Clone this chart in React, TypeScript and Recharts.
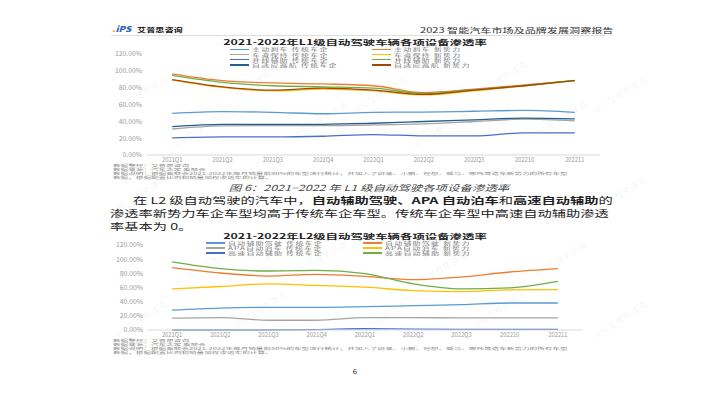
import { LineChart, Line, XAxis, YAxis } from "recharts";

const quarters = [
  "2021Q1",
  "2021Q2",
  "2021Q3",
  "2021Q4",
  "2022Q1",
  "2022Q2",
  "2022Q3",
  "202210",
  "202211",
];
const yTicks = [0, 20, 40, 60, 80, 100, 120];

// L1
const l1BrakeOld = [49.5, 51.5, 50.7, 49, 50.7, 51, 52, 53, 50.7];
const l1BrakeNew = [96.5, 88.4, 85.6, 84.4, 82.3, 74.2, 78.3, 83.2, 88.4];
const l1LaneOld = [30.9, 34.5, 35, 35, 35.7, 37, 39.8, 42.6, 40.6];
const l1LaneNew = [89, 80.3, 76.2, 78.3, 76.2, 71.4, 76.2, 82.3, 88.4];
const l1MergeOld = [20.3, 21.5, 21.5, 22.3, 24.3, 22.7, 22.7, 26.4, 26.4];
const l1MergeNew = [94.5, 86.3, 82.3, 81, 79.5, 73, 77.5, 82.5, 88.6];
const l1AccOld = [33.7, 36.5, 36.5, 36.5, 37.7, 39.8, 41.8, 43.8, 43];
const l1AccNew = [89.6, 81, 77, 79.5, 77, 72, 77, 82.3, 88.4];

// L2
const l2AssistOld = [28.1, 31, 31.9, 31.9, 32.9, 34.3, 35.7, 38.1, 38.1];
const l2AssistNew = [88.1, 80.5, 76.2, 78.6, 75.7, 71, 74.7, 81.9, 86.7];
const l2ApaOld = [16.7, 17.6, 13.8, 13.8, 17.6, 17.6, 17, 17, 17];
const l2ApaNew = [58.1, 61.4, 65.2, 62.9, 60.5, 55.7, 54.3, 56.7, 57.1];
const l2HighwayOld = [0, 0, 0, 0.5, 1.8, 1.2, 1, 1, 1];
const l2HighwayNew = [96.2, 86.7, 83.3, 84.3, 79.5, 65.2, 58, 59.5, 68.6];

const l1Series = [
  { key: "brakeOld", name: "主动刹车 传统车企", color: "#5B9BD5", values: l1BrakeOld },
  { key: "brakeNew", name: "主动刹车 新势力", color: "#ED7D31", values: l1BrakeNew },
  { key: "laneOld", name: "车道保持 传统车企", color: "#A5A5A5", values: l1LaneOld },
  { key: "laneNew", name: "车道保持 新势力", color: "#FFC000", values: l1LaneNew },
  { key: "mergeOld", name: "并线辅助 传统车企", color: "#4472C4", values: l1MergeOld },
  { key: "mergeNew", name: "并线辅助 新势力", color: "#70AD47", values: l1MergeNew },
  { key: "accOld", name: "自适应巡航 传统车企", color: "#255E91", values: l1AccOld },
  { key: "accNew", name: "自适应巡航 新势力", color: "#9E480E", values: l1AccNew },
];

const l2Series = [
  { key: "assistOld", name: "自动辅助驾驶 传统车企", color: "#5B9BD5", values: l2AssistOld },
  { key: "assistNew", name: "自动辅助驾驶 新势力", color: "#ED7D31", values: l2AssistNew },
  { key: "apaOld", name: "APA自动泊车 传统车企", color: "#A5A5A5", values: l2ApaOld },
  { key: "apaNew", name: "APA自动泊车 新势力", color: "#FFC000", values: l2ApaNew },
  { key: "hwOld", name: "高速自动辅助 传统车企", color: "#4472C4", values: l2HighwayOld },
  { key: "hwNew", name: "高速自动辅助 新势力", color: "#70AD47", values: l2HighwayNew },
];

const notes = [
  "数据整理：艾普思咨询",
  "数据来源：汽车之家 乘联会",
  "数据说明：根据乘联会2021-2022年每月销量前80%的车型进行统计，并加入了蔚来、小鹏、理想、威马、哪吒等造车新势力的所有车型",
  "数据，根据配置比例和销量加权渗透率的计算。",
];

const FONT = '"Noto Sans CJK SC", "Noto Sans", sans-serif';

function buildRows(series: { key: string; values: number[] }[]) {
  return quarters.map((q, i) => {
    const row: Record<string, string | number> = { q };
    series.forEach((s) => (row[s.key] = s.values[i]));
    return row;
  });
}

// text block, stretched like the page scan (s wide, sy tall)
function T({
  x,
  y,
  size,
  s = 1.5,
  sy = 1,
  center = false,
  style = {},
  children,
}: {
  x: number;
  y: number;
  size: number;
  s?: number;
  sy?: number;
  center?: boolean;
  style?: React.CSSProperties;
  children: React.ReactNode;
}) {
  return (
    <div
      style={{
        position: "absolute",
        left: x,
        top: y,
        fontSize: size,
        lineHeight: 1,
        whiteSpace: "nowrap",
        fontFamily: FONT,
        transform: center
          ? `translate(-50%, -50%) scale(${s}, ${sy})`
          : `translate(0, -50%) scale(${s}, ${sy})`,
        transformOrigin: center ? "center" : "left center",
        ...style,
      }}
    >
      {children}
    </div>
  );
}

function Legend({
  items,
  cols,
  rowY,
}: {
  items: { name: string; color: string }[];
  cols: number[];
  rowY: number[];
}) {
  return (
    <>
      {items.map((it, i) => {
        const lx = cols[i % 2];
        const y = rowY[Math.floor(i / 2)];
        return (
          <div key={it.name}>
            <div
              style={{
                position: "absolute",
                left: lx,
                top: y - 0.7,
                width: 19,
                height: 1.4,
                background: it.color,
              }}
            />
            <T x={lx + 22} y={y} size={8} s={1.0} sy={0.55} style={{ color: "#777", letterSpacing: 1.2 }}>
              {it.name}
            </T>
          </div>
        );
      })}
    </>
  );
}

function Chart({
  top,
  height,
  marginTop,
  right,
  yWidth,
  pad,
  series,
}: {
  top: number;
  height: number;
  marginTop: number;
  right: number;
  yWidth: number;
  pad: number;
  series: { key: string; color: string; values: number[] }[];
}) {
  return (
    <div style={{ position: "absolute", left: 0, top }}>
      <LineChart
        width={710}
        height={height}
        data={buildRows(series)}
        margin={{ top: marginTop, right, left: 0, bottom: 0 }}
      >
        <XAxis
          dataKey="q"
          interval={0}
          padding={{ left: pad, right: pad }}
          axisLine={{ stroke: "#d9d9d9" }}
          tickLine={false}
          tickSize={2}
          tickMargin={1}
          height={10}
          tick={{ fontSize: 5.8, fill: "#999", fontFamily: FONT }}
        />
        <YAxis
          width={yWidth}
          domain={[0, 120]}
          ticks={yTicks}
          axisLine={false}
          tickLine={false}
          tickSize={3}
          tickMargin={2}
          tickFormatter={(v: number) => `${v.toFixed(2)}%`}
          tick={{ fontSize: 6.8, fill: "#999", fontFamily: FONT }}
        />
        {series.map((s) => (
          <Line
            key={s.key}
            dataKey={s.key}
            type="monotone"
            stroke={s.color}
            strokeWidth={1.3}
            dot={false}
            activeDot={false}
            isAnimationActive={false}
          />
        ))}
      </LineChart>
    </div>
  );
}

const watermarkSpots = [
  [140, 95], [260, 80], [380, 95], [500, 80], [620, 95],
  [200, 130], [320, 120], [440, 130], [560, 120],
  [140, 195], [260, 180], [380, 195], [500, 180], [620, 195],
  [200, 270], [320, 260], [440, 270], [560, 260],
  [140, 320], [260, 310], [380, 320], [500, 310], [620, 320],
];

export default function App() {
  return (
    <div
      style={{
        position: "absolute",
        left: 0,
        top: 0,
        width: 710,
        height: 399,
        background: "#fff",
        overflow: "hidden",
        fontFamily: FONT,
      }}
    >
      {/* watermark */}
      {watermarkSpots.map(([x, y], i) => (
        <div
          key={i}
          style={{
            position: "absolute",
            left: x,
            top: y,
            fontSize: 9,
            fontWeight: 700,
            color: "rgba(0,0,0,0.04)",
            transform: "translate(-50%,-50%) rotate(-32deg)",
            whiteSpace: "nowrap",
          }}
        >
          iPS 艾普思咨询
        </div>
      ))}

      {/* header */}
      <T x={112} y={29} size={8} s={1.2} style={{ color: "#2a64b8", fontWeight: 900, fontStyle: "italic" }}>
        <span style={{ color: "#f39a1e" }}>.</span>iPS
      </T>
      <T x={137} y={29.5} size={6.1} s={1.5} style={{ color: "#111", fontWeight: 700 }}>
        艾普思咨询
      </T>
      <T x={420} y={30} size={7.4} s={1.5} style={{ color: "#333" }}>
        2023 智能汽车市场及品牌发展洞察报告
      </T>
      <div style={{ position: "absolute", left: 111, top: 35, width: 494, height: 0.6, background: "#ddd" }} />

      {/* chart 1 */}
      <T x={355} y={41.5} size={8} s={1.55} sy={0.9} center style={{ color: "#222", fontWeight: 700 }}>
        2021-2022年L1级自动驾驶车辆各项设备渗透率
      </T>
      <Chart top={0} height={165} marginTop={54} right={110} yWidth={147} pad={25.2} series={l1Series} />
      <Legend items={l1Series} cols={[230, 372]} rowY={[49.3, 54.5, 59.7, 64.9]} />
      {notes.map((n, i) => (
        <T key={"a" + i} x={113} y={165.5 + i * 4} size={8} s={0.95} sy={0.42} style={{ color: "#888" }}>
          {n}
        </T>
      ))}

      {/* caption */}
      <T x={369} y={187} size={8.3} s={1.5} center style={{ color: "#444", fontStyle: "italic" }}>
        图 6：2021−2022 年 L1 级自动驾驶各项设备渗透率
      </T>

      {/* paragraph */}
      <T x={133} y={201} size={9.5} s={1.5} style={{ color: "#222" }}>
        在 L2 级自动驾驶的汽车中，<b>自动辅助驾驶、APA 自动泊车</b>和<b>高速自动辅助</b>的
      </T>
      <T x={110} y={214} size={9.5} s={1.5} style={{ color: "#222" }}>
        渗透率新势力车企车型均高于传统车企车型。传统车企车型中高速自动辅助渗透
      </T>
      <T x={110} y={227} size={9.5} s={1.5} style={{ color: "#222" }}>
        率基本为 0。
      </T>

      {/* chart 2 */}
      <T x={355} y={235.5} size={8} s={1.55} sy={0.9} center style={{ color: "#222", fontWeight: 700 }}>
        2021-2022年L2级自动驾驶车辆各项设备渗透率
      </T>
      <Chart top={200} height={140} marginTop={45} right={128} yWidth={148} pad={24.1} series={l2Series} />
      <Legend items={l2Series} cols={[206, 363]} rowY={[243, 248, 253]} />
      {notes.map((n, i) => (
        <T key={"b" + i} x={113} y={341 + i * 4} size={8} s={0.95} sy={0.42} style={{ color: "#888" }}>
          {n}
        </T>
      ))}

      <T x={355} y={372} size={6} s={1.3} center style={{ color: "#333" }}>
        6
      </T>
    </div>
  );
}
